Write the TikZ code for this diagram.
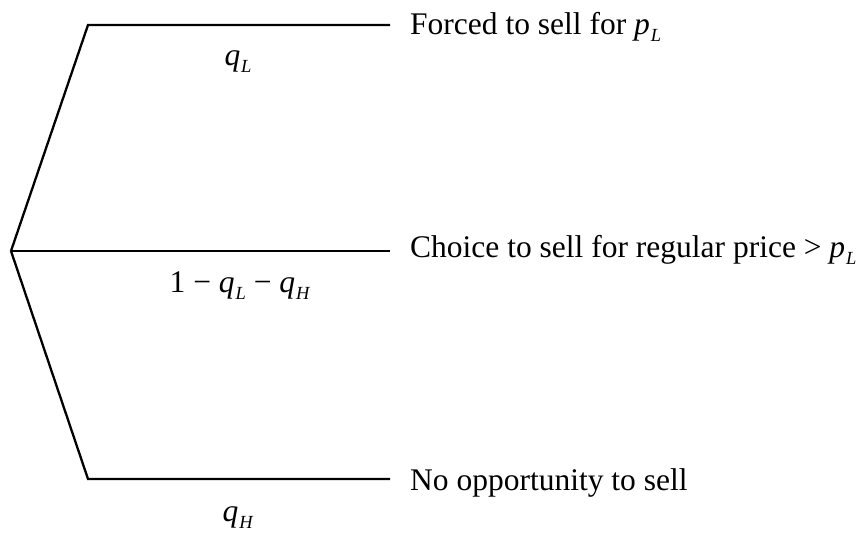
\documentclass[tikz,border=0pt]{standalone}
\usepackage{fontspec}
\setmainfont{Liberation Serif}
\newcommand{\vsub}[2]{\textit{#1}\kern0.03em\raisebox{-7.5pt}{\fontsize{18.5}{18.5}\selectfont\textit{#2}}}
\tikzset{
  branch/.style={line width=2.3pt},
  outcome/.style={anchor=base west, inner sep=0pt, font=\fontsize{31.5}{34}\selectfont},
  prob/.style={anchor=base, inner sep=0pt, font=\fontsize{31.5}{34}\selectfont},
}
\begin{document}
\begin{tikzpicture}[x=1pt,y=-1pt]
\useasboundingbox (0,0) rectangle (867,533);
\coordinate (root) at (11,251);
\coordinate (tk) at (88,25);
\coordinate (te) at (390,25);
\coordinate (me) at (390,251);
\coordinate (bk) at (88,479);
\coordinate (be) at (390,479);
\draw[branch, line join=miter] (root) -- (tk) -- (te);
\draw[branch] (root) -- (me);
\draw[branch, line join=miter] (root) -- (bk) -- (be);
\node[outcome] (o1) at (410,34) {Forced to sell for \vsub{p}{L}};
\node[outcome] (o2) at (410,257) {Choice to sell for regular price > \vsub{p}{L}};
\node[outcome] (o3) at (410,490) {No opportunity to sell};
\node[prob] (p1) at (238,65) {\vsub{q}{L}};
\node[prob] (p2) at (240,292) {1 − \vsub{q}{L} − \vsub{q}{H}};
\node[prob] (p3) at (238,521) {\vsub{q}{H}};
\end{tikzpicture}
\end{document}
